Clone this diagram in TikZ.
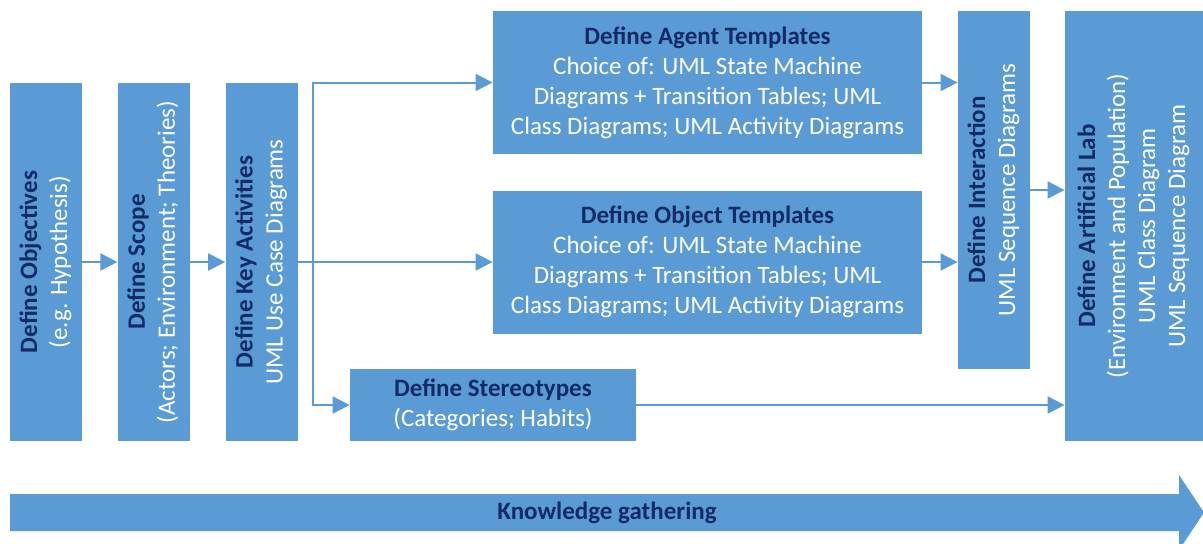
\documentclass[tikz,border=0pt]{standalone}
\usepackage{fontspec}
\setmainfont{Carlito}
\usetikzlibrary{arrows.meta, positioning}
\definecolor{boxblue}{HTML}{5B9BD5}
\definecolor{titleblue}{HTML}{112B66}

\begin{document}
\begin{tikzpicture}[x=0.5pt, y=-0.5pt]
	\tikzset {>={Triangle[length=8.5pt, width=8.5pt]}, node distance=17.5pt,
		box/.style={fill=boxblue, text=white, inner sep=0pt, align=center, font=\fontsize{12.5}{15}\selectfont},
		tall/.style={box, minimum width=36pt, minimum height=179pt},
		wide/.style={box, minimum width=214.5pt, minimum height=71.5pt},
		link/.style={draw=boxblue, line width=1pt, ->} }
	\useasboundingbox (0,0) rectangle (1203,543);

	\node[tall] (obj) at (46,262) {\rotatebox{90}{\begin{tabular}{c}{\bfseries\color{titleblue}Define Objectives}\\(e.g. Hypothesis)\end{tabular}}};
	\node[tall, right=of obj] (scope) {\rotatebox{90}{\begin{tabular}{c}{\bfseries\color{titleblue}Define Scope}\\(Actors; Environment; Theories)\end{tabular}}};
	\node[tall, right=of scope] (key) {\rotatebox{90}{\begin{tabular}{c}{\bfseries\color{titleblue}Define Key Activities}\\UML Use Case Diagrams\end{tabular}}};

	\node[wide] (agent) at (707.5,82.5) {{\bfseries\color{titleblue}Define Agent Templates}\\Choice of: UML State Machine\\Diagrams + Transition Tables; UML\\Class Diagrams; UML Activity Diagrams};
	\node[wide] (object) at (707.5,262) {{\bfseries\color{titleblue}Define Object Templates}\\Choice of: UML State Machine\\Diagrams + Transition Tables; UML\\Class Diagrams; UML Activity Diagrams};
	\node[box, minimum width=143pt, minimum height=36pt] (stereo) at (493,405) {{\bfseries\color{titleblue}Define Stereotypes}\\(Categories; Habits)};

	\node[tall] (inter) at (994,190) {\rotatebox{90}{\begin{tabular}{c}{\bfseries\color{titleblue}Define Interaction}\\UML Sequence Diagrams\end{tabular}}};
	\node[box, minimum width=69pt, minimum height=215pt] (lab) at (1134,226) {\rotatebox{90}{\begin{tabular}{c}{\bfseries\color{titleblue}Define Artificial Lab}\\(Environment and Population)\\UML Class Diagram\\UML Sequence Diagram\end{tabular}}};

	% connectors
	\coordinate (fork) at (313,262);
	\draw[link] (obj) -- (scope);
	\draw[link] (scope) -- (key);
	\draw[link] (key.east) -- (key.east -| object.west);
	\draw[link] (fork) |- (agent);
	\draw[link] (fork) |- (stereo);
	\draw[link] (agent.east) -- (agent.east -| inter.west);
	\draw[link] (object.east) -- (object.east -| inter.west);
	\draw[link] (inter) -- (inter -| lab.west);
	\draw[link] (stereo) -- (stereo -| lab.west);

	% knowledge arrow
	\fill[boxblue] (10,494) -- (1179,494) -- (1179,475) -- (1204,512.5) -- (1179,550) -- (1179,531) -- (10,531) -- cycle;
	\node[font=\fontsize{12.5}{15}\selectfont\bfseries, text=titleblue] (gather) at (607,512.5) {Knowledge gathering};
\end{tikzpicture}
\end{document}
